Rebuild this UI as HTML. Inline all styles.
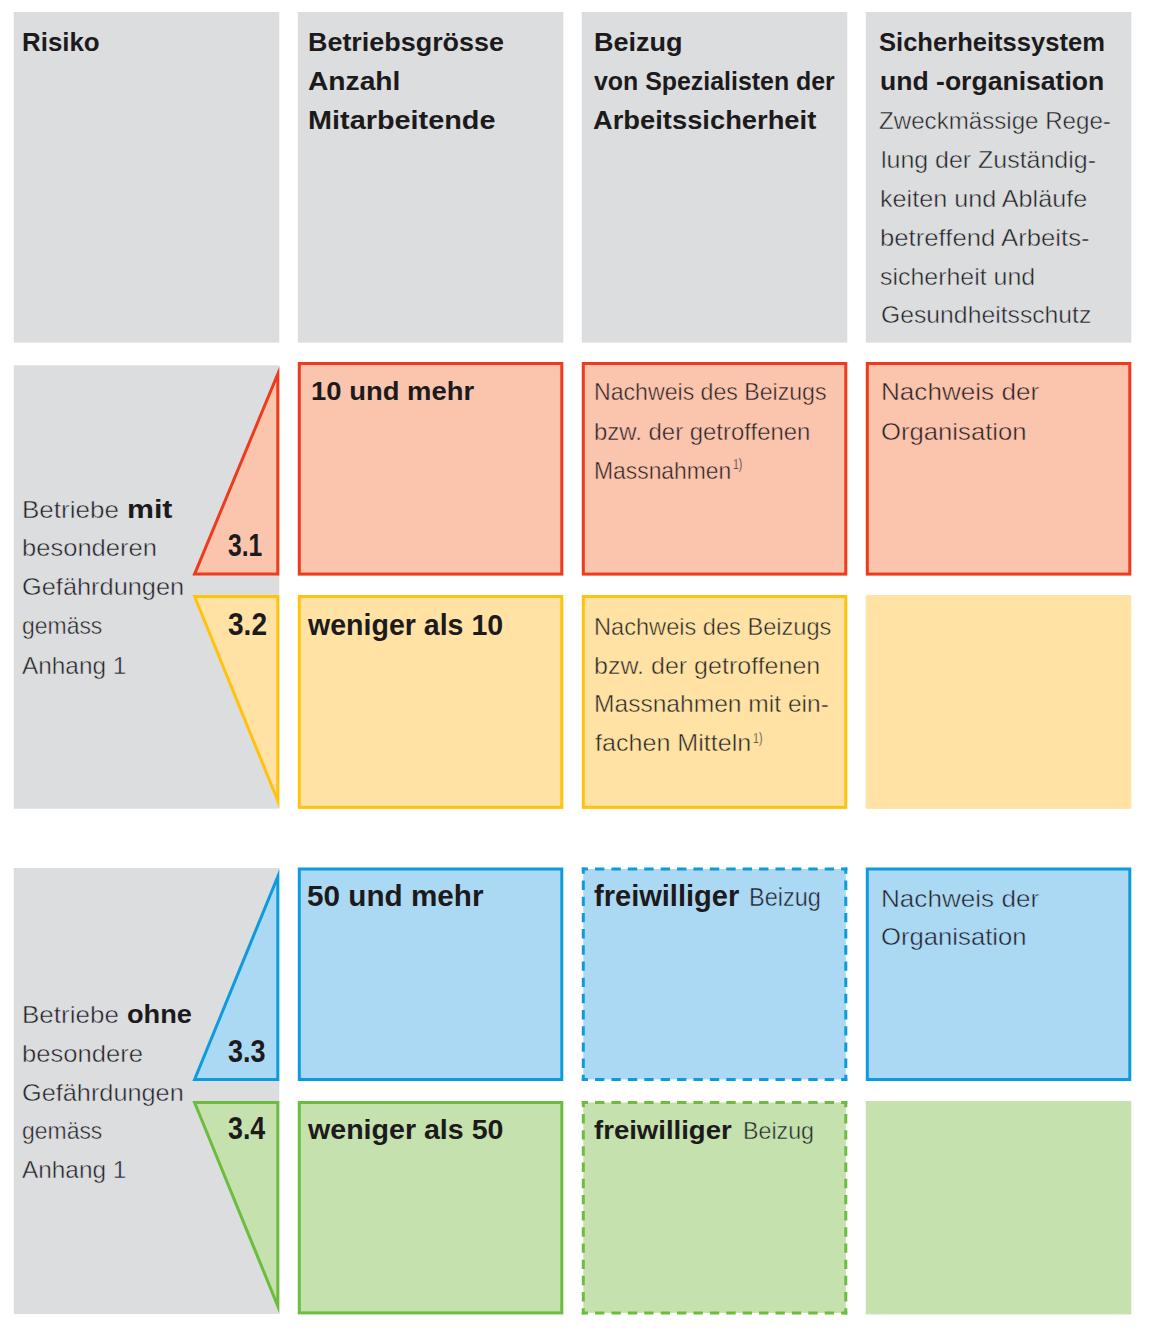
<!DOCTYPE html>
<html lang="de">
<head>
<meta charset="utf-8">
<title>Risiko / Betriebsgrösse – Übersicht</title>
<style>
html,body{margin:0;padding:0;background:#fff;}
body{width:1152px;height:1330px;position:relative;overflow:hidden;font-family:"Liberation Sans",sans-serif;}
svg{position:absolute;left:0;top:0;display:block;}
.t{position:absolute;white-space:nowrap;line-height:1;transform-origin:0 0;display:block;}
.b{font-weight:bold;font-size:25.5px;color:#1d1a1c;}
.r{font-weight:normal;font-size:24px;color:#222228;}
.n{font-size:31.5px;}
.s{font-weight:normal;font-size:14px;color:#222228;}
</style>
</head>
<body>
<svg width="1152" height="1330" viewBox="0 0 1152 1330">
<rect x="13.8" y="12" width="265.5" height="330.6" fill="#dcddde"/>
<rect x="297.8" y="12" width="265.5" height="330.6" fill="#dcddde"/>
<rect x="581.8" y="12" width="265.5" height="330.6" fill="#dcddde"/>
<rect x="865.8" y="12" width="265.5" height="330.6" fill="#dcddde"/>
<rect x="13.8" y="365.3" width="265.5" height="443.4" fill="#dcddde"/>
<rect x="13.8" y="868" width="265.5" height="446" fill="#dcddde"/>
<rect x="299.3" y="363.5" width="262.5" height="210.6" fill="#fbc4ac" stroke="#ee3a1d" stroke-width="3"/>
<rect x="583.3" y="363.5" width="262.5" height="210.6" fill="#fbc4ac" stroke="#ee3a1d" stroke-width="3"/>
<rect x="867.3" y="363.5" width="262.5" height="210.6" fill="#fbc4ac" stroke="#ee3a1d" stroke-width="3"/>
<rect x="299.3" y="596.5" width="262.5" height="210.9" fill="#ffe2a4" stroke="#ffc20e" stroke-width="3"/>
<rect x="583.3" y="596.5" width="262.5" height="210.9" fill="#ffe2a4" stroke="#ffc20e" stroke-width="3"/>
<rect x="865.8" y="595" width="265.5" height="213.9" fill="#ffe2a4"/>
<rect x="299.3" y="869" width="262.5" height="210.5" fill="#abd9f3" stroke="#0d9bdf" stroke-width="3"/>
<rect x="583.3" y="869" width="262.5" height="210.5" fill="#abd9f3"/>
<line x1="581.8" y1="869" x2="847.3" y2="869" stroke="#0d9bdf" stroke-width="3" stroke-dasharray="9.4 7.006" stroke-dashoffset="3.2"/>
<line x1="581.8" y1="1079.5" x2="847.3" y2="1079.5" stroke="#0d9bdf" stroke-width="3" stroke-dasharray="9.4 7.006" stroke-dashoffset="3.2"/>
<line x1="583.3" y1="867.5" x2="583.3" y2="1081" stroke="#0d9bdf" stroke-width="3" stroke-dasharray="9.4 6.792" stroke-dashoffset="3.2"/>
<line x1="845.8" y1="867.5" x2="845.8" y2="1081" stroke="#0d9bdf" stroke-width="3" stroke-dasharray="9.4 6.792" stroke-dashoffset="3.2"/>
<rect x="867.3" y="869" width="262.5" height="210.5" fill="#abd9f3" stroke="#0d9bdf" stroke-width="3"/>
<rect x="299.3" y="1102.5" width="262.5" height="210.4" fill="#c5e1ae" stroke="#6cbd3e" stroke-width="3"/>
<rect x="583.3" y="1102.5" width="262.5" height="210.4" fill="#c5e1ae"/>
<line x1="581.8" y1="1102.5" x2="847.3" y2="1102.5" stroke="#6cbd3e" stroke-width="3" stroke-dasharray="9.4 7.006" stroke-dashoffset="3.2"/>
<line x1="581.8" y1="1312.9" x2="847.3" y2="1312.9" stroke="#6cbd3e" stroke-width="3" stroke-dasharray="9.4 7.006" stroke-dashoffset="3.2"/>
<line x1="583.3" y1="1101" x2="583.3" y2="1314.4" stroke="#6cbd3e" stroke-width="3" stroke-dasharray="9.4 6.785" stroke-dashoffset="3.2"/>
<line x1="845.8" y1="1101" x2="845.8" y2="1314.4" stroke="#6cbd3e" stroke-width="3" stroke-dasharray="9.4 6.785" stroke-dashoffset="3.2"/>
<rect x="865.8" y="1101" width="265.5" height="213.4" fill="#c5e1ae"/>
<path d="M277.8,373.9 L277.8,574.1 L194.6,574.1 Z" fill="#fbc4ac" stroke="#ee3a1d" stroke-width="3" stroke-miterlimit="12"/>
<path d="M277.8,800.7 L277.8,596.5 L194.6,596.5 Z" fill="#ffe2a4" stroke="#ffc20e" stroke-width="3" stroke-miterlimit="12"/>
<path d="M277.8,876.6 L277.8,1079.5 L194.6,1079.5 Z" fill="#abd9f3" stroke="#0d9bdf" stroke-width="3" stroke-miterlimit="12"/>
<path d="M277.8,1306 L277.8,1102.5 L194.6,1102.5 Z" fill="#c5e1ae" stroke="#6cbd3e" stroke-width="3" stroke-miterlimit="12"/>
</svg>
<span class="t b" style="left:22.18px;top:29.91px;transform:scaleX(1.0152);">Risiko</span>
<span class="t b" style="left:307.94px;top:30.11px;transform:scaleX(1.0555);">Betriebsgrösse</span>
<span class="t b" style="left:307.89px;top:69.11px;transform:scaleX(1.1052);">Anzahl</span>
<span class="t b" style="left:307.87px;top:108.11px;transform:scaleX(1.1306);">Mitarbeitende</span>
<span class="t b" style="left:593.54px;top:30.11px;transform:scaleX(1.0602);">Beizug</span>
<span class="t b" style="left:594px;top:69.11px;transform:scaleX(0.9766);">von Spezialisten der</span>
<span class="t b" style="left:592.59px;top:108.11px;transform:scaleX(1.0717);">Arbeitssicherheit</span>
<span class="t b" style="left:879.01px;top:30.11px;transform:scaleX(1.0023);">Sicherheitssystem</span>
<span class="t b" style="left:879.98px;top:69.11px;transform:scaleX(1.0416);">und -organisation</span>
<span class="t r" style="left:878.87px;top:109.38px;transform:scaleX(1.0050);-webkit-text-stroke:0.5px #dcddde;">Zweckmässige Rege-</span>
<span class="t r" style="left:880.57px;top:147.88px;transform:scaleX(1.0396);-webkit-text-stroke:0.5px #dcddde;">lung der Zuständig-</span>
<span class="t r" style="left:879.98px;top:186.88px;transform:scaleX(1.0488);-webkit-text-stroke:0.5px #dcddde;">keiten und Abläufe</span>
<span class="t r" style="left:879.96px;top:225.88px;transform:scaleX(1.0714);-webkit-text-stroke:0.5px #dcddde;">betreffend Arbeits-</span>
<span class="t r" style="left:879.98px;top:264.88px;transform:scaleX(1.0379);-webkit-text-stroke:0.5px #dcddde;">sicherheit und</span>
<span class="t r" style="left:880.57px;top:303.38px;transform:scaleX(1.0306);-webkit-text-stroke:0.5px #dcddde;">Gesundheitsschutz</span>
<span class="t b" style="left:310.92px;top:378.81px;transform:scaleX(1.0756);">10 und mehr</span>
<span class="t r" style="left:594.24px;top:380.08px;transform:scaleX(0.9630);-webkit-text-stroke:0.5px #fbc4ac;">Nachweis des Beizugs</span>
<span class="t r" style="left:594.2px;top:419.88px;transform:scaleX(0.9968);-webkit-text-stroke:0.5px #fbc4ac;">bzw. der getroffenen</span>
<span class="t r" style="left:594.25px;top:459.08px;transform:scaleX(0.9529);-webkit-text-stroke:0.5px #fbc4ac;">Massnahmen</span>
<span class="t r" style="left:880.54px;top:380.08px;transform:scaleX(1.0878);-webkit-text-stroke:0.5px #fbc4ac;">Nachweis der</span>
<span class="t r" style="left:880.54px;top:419.88px;transform:scaleX(1.0698);-webkit-text-stroke:0.5px #fbc4ac;">Organisation</span>
<span class="t r" style="left:21.88px;top:497.88px;transform:scaleX(1.0833);-webkit-text-stroke:0.5px #dcddde;">Betriebe</span>
<span class="t b" style="left:126.65px;top:496.61px;transform:scaleX(1.1884);">mit</span>
<span class="t r" style="left:21.96px;top:535.88px;transform:scaleX(1.0645);-webkit-text-stroke:0.5px #dcddde;">besonderen</span>
<span class="t r" style="left:21.97px;top:574.78px;transform:scaleX(1.0567);-webkit-text-stroke:0.5px #dcddde;">Gefährdungen</span>
<span class="t r" style="left:22.02px;top:613.88px;transform:scaleX(0.9559);-webkit-text-stroke:0.5px #dcddde;">gemäss</span>
<span class="t r" style="left:22.02px;top:653.68px;transform:scaleX(1.0150);-webkit-text-stroke:0.5px #dcddde;">Anhang 1</span>
<span class="t b n" style="left:227.77px;top:529.74px;transform:scaleX(0.7832);">3.1</span>
<span class="t b n" style="left:227.77px;top:608.64px;transform:scaleX(0.8910);">3.2</span>
<span class="t b" style="left:308.05px;top:610.85px;transform:scaleX(0.9843);font-size:29px;">weniger als 10</span>
<span class="t r" style="left:594.22px;top:614.68px;transform:scaleX(0.9833);-webkit-text-stroke:0.5px #ffe2a4;">Nachweis des Beizugs</span>
<span class="t r" style="left:594.15px;top:653.88px;transform:scaleX(1.0424);-webkit-text-stroke:0.5px #ffe2a4;">bzw. der getroffenen</span>
<span class="t r" style="left:594.17px;top:692.08px;transform:scaleX(1.0237);-webkit-text-stroke:0.5px #ffe2a4;">Massnahmen mit ein-</span>
<span class="t r" style="left:595.19px;top:730.68px;transform:scaleX(1.0458);-webkit-text-stroke:0.5px #ffe2a4;">fachen Mitteln</span>
<span class="t b" style="left:307.05px;top:882.45px;transform:scaleX(1.0234);font-size:29px;">50 und mehr</span>
<span class="t b" style="left:593.54px;top:882.15px;transform:scaleX(1.0016);font-size:29px;">freiwilliger</span>
<span class="t r" style="left:749.48px;top:885.11px;transform:scaleX(0.9222);font-size:25.5px;-webkit-text-stroke:0.5px #abd9f3;">Beizug</span>
<span class="t r" style="left:880.54px;top:886.68px;transform:scaleX(1.0878);-webkit-text-stroke:0.5px #abd9f3;">Nachweis der</span>
<span class="t r" style="left:880.54px;top:924.88px;transform:scaleX(1.0698);-webkit-text-stroke:0.5px #abd9f3;">Organisation</span>
<span class="t r" style="left:21.88px;top:1002.88px;transform:scaleX(1.0833);-webkit-text-stroke:0.5px #dcddde;">Betriebe</span>
<span class="t b" style="left:126.58px;top:1001.61px;transform:scaleX(1.0657);">ohne</span>
<span class="t r" style="left:21.94px;top:1042.18px;transform:scaleX(1.0672);-webkit-text-stroke:0.5px #dcddde;">besondere</span>
<span class="t r" style="left:21.97px;top:1080.78px;transform:scaleX(1.0541);-webkit-text-stroke:0.5px #dcddde;">Gefährdungen</span>
<span class="t r" style="left:22.02px;top:1118.88px;transform:scaleX(0.9559);-webkit-text-stroke:0.5px #dcddde;">gemäss</span>
<span class="t r" style="left:22.02px;top:1157.98px;transform:scaleX(1.0150);-webkit-text-stroke:0.5px #dcddde;">Anhang 1</span>
<span class="t b n" style="left:227.78px;top:1036.04px;transform:scaleX(0.8562);">3.3</span>
<span class="t b n" style="left:227.78px;top:1113.34px;transform:scaleX(0.8517);">3.4</span>
<span class="t b" style="left:308.05px;top:1115.27px;transform:scaleX(1.0030);font-size:28.5px;">weniger als 50</span>
<span class="t b" style="left:593.59px;top:1118.11px;transform:scaleX(1.0797);">freiwilliger</span>
<span class="t r" style="left:742.62px;top:1119.38px;transform:scaleX(0.9679);-webkit-text-stroke:0.5px #c5e1ae;">Beizug</span>
<span class="t s" style="left:733.23px;top:457.4px;transform:scaleX(0.7497);-webkit-text-stroke:0.35px #fbc4ac;">1)</span>
<span class="t s" style="left:753.3px;top:730.7px;transform:scaleX(0.7547);-webkit-text-stroke:0.35px #ffe2a4;">1)</span>
</body>
</html>
